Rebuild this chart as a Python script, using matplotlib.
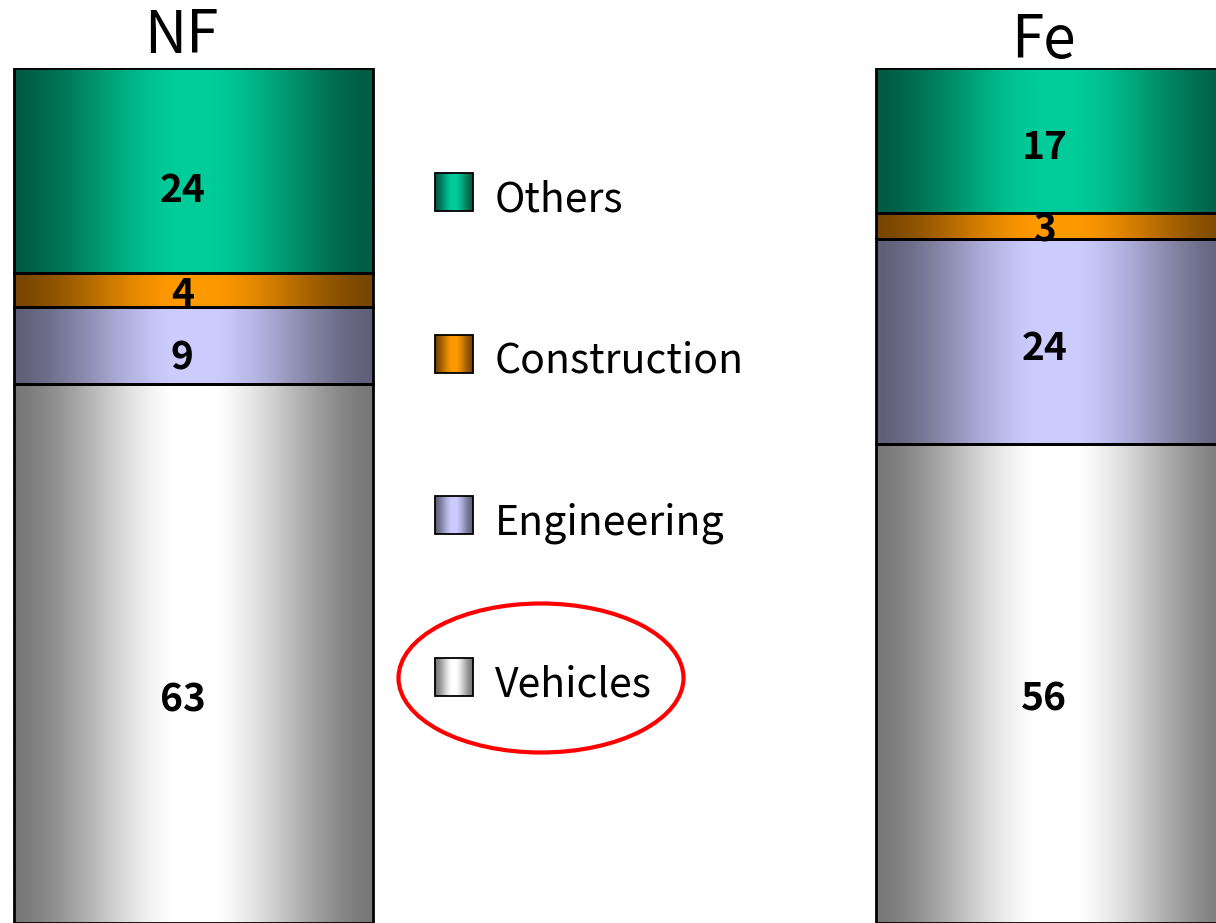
import numpy as np
import matplotlib.pyplot as plt
import matplotlib.colors as mcolors
from matplotlib.patches import Ellipse, Rectangle

plt.rcParams['font.family'] = ['Noto Sans CJK JP', 'DejaVu Sans']

metals = ['NF', 'Fe']
sectors = ['Vehicles', 'Engineering', 'Construction', 'Others']
nf_share = [63, 9, 4, 24]
fe_share = [56, 24, 3, 17]

# gradient colours: dark at the bar edge, light in the middle
edge_col = {'Vehicles': '#787878', 'Engineering': '#60607a',
            'Construction': '#784600', 'Others': '#005c44'}
mid_col = {'Vehicles': '#ffffff', 'Engineering': '#ccccff',
           'Construction': '#ff9900', 'Others': '#00cc99'}

# layout in pixels (figure is 1216 x 923 at dpi 100)
W, H = 1216, 923
PX = 100 / 72.0            # pixels per point
top_px = 68
bar_left_px = [14, 876]
bar_w_px = 359
# how far each value label sits below its segment centre (px), and title baselines
label_drop_px = {'NF': [43.5, 10, 1.5, 17], 'Fe': [12.5, 4, 1.5, 4.5]}
title_base_px = [53, 58]


def ramp(c0, c1, n=400):
    t = np.linspace(0, 1, n)
    g = np.clip((1 - np.abs(2 * t - 1) - 0.03) / 0.85, 0, 1)
    f = 0.5 - 0.5 * np.cos(np.pi * g)
    f = 0.5 * (f + g)
    a = np.array(mcolors.to_rgb(c0))
    b = np.array(mcolors.to_rgb(c1))
    return (a + f[:, None] * (b - a))[None, :, :]


fig = plt.figure(figsize=(W / 100, H / 100), dpi=100)
ax = fig.add_axes([0, 0, 1, (H - top_px) / H])
unit = bar_left_px[1] - bar_left_px[0]
bar_w = bar_w_px / unit
xpos = np.arange(len(metals))
xlim = (-(bar_left_px[0] + bar_w_px / 2) / unit, (W - bar_left_px[0] - bar_w_px / 2) / unit)

shares = np.array([nf_share, fe_share])
bottom = np.zeros(len(metals))
for i, sec in enumerate(sectors):
    vals = shares[:, i]
    bars = ax.bar(xpos, vals, bar_w, bottom=bottom, facecolor='none',
                  edgecolor='black', lw=2, zorder=3)
    grad = ramp(edge_col[sec], mid_col[sec])
    for j, rect in enumerate(bars):
        x0, y0 = rect.get_x(), rect.get_y()
        im = ax.imshow(grad, extent=[x0, x0 + rect.get_width(), y0, y0 + rect.get_height()],
                       aspect='auto', interpolation='bilinear', zorder=2)
        im.set_clip_path(rect)
        drop = label_drop_px[metals[j]][i] + 14
        ax.annotate(str(vals[j]), xy=(xpos[j], y0 + vals[j] / 2),
                    xytext=(-8, -drop / PX), textcoords='offset points',
                    ha='center', va='baseline', fontsize=28, fontweight='bold',
                    zorder=4)
    bottom = bottom + vals

for j, m in enumerate(metals):
    ax.annotate(m, xy=(xpos[j], 100), xytext=(-8.5, (top_px - title_base_px[j]) / PX),
                textcoords='offset points', ha='center', va='baseline',
                fontsize=42, annotation_clip=False)

ax.set_xlim(*xlim)
ax.set_ylim(0, 100)
ax.axis('off')

# legend drawn by hand so the swatches keep the gradient
lax = fig.add_axes([0, 0, 1, 1], zorder=5)
lax.set_xlim(0, W)
lax.set_ylim(H, 0)
lax.axis('off')
for k, sec in enumerate(sectors[::-1]):
    cy = 192 + k * 161.7
    lax.imshow(ramp(edge_col[sec], mid_col[sec]), extent=[435, 473, cy + 19, cy - 19],
               aspect='auto', interpolation='bilinear')
    lax.add_patch(Rectangle((435, cy - 19), 38, 38, fill=False, ec='black', lw=1.3))
    lax.text(495, cy + 19, sec, fontsize=29.5, va='baseline', ha='left')
lax.add_patch(Ellipse((541, 678), 285, 149, fill=False, ec='#ff0000', lw=3))
lax.set_xlim(0, W)
lax.set_ylim(H, 0)

fig.savefig('out.png', dpi=100)
